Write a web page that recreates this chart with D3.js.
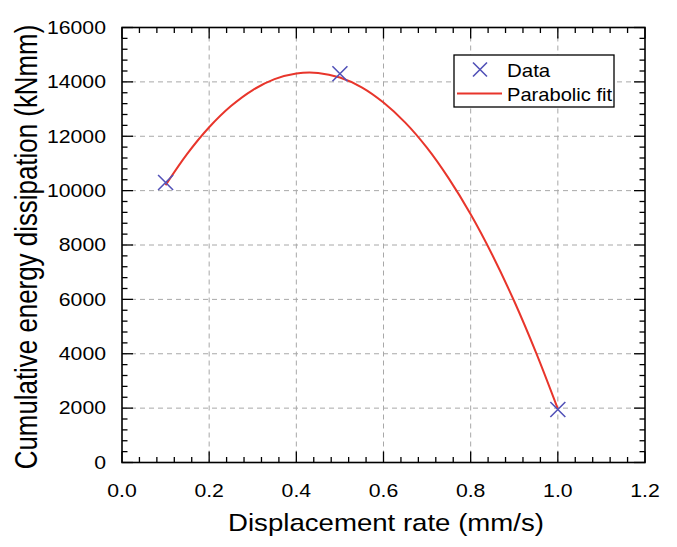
<!DOCTYPE html>
<html>
<head>
<meta charset="utf-8">
<script src="https://cdn.jsdelivr.net/npm/d3@7"></script>
<style>
  body { margin: 0; background: #fff; }
  text { font-family: "Liberation Sans", Arial, sans-serif; fill: #000; }
</style>
</head>
<body>
<svg id="chart" width="677" height="547"></svg>
<script>
// measured points
const rate = [0.1, 0.5, 1.0]
const energy = [10300, 14300, 1950]

// parabolic fit curve
const fitRate = [0.10, 0.15, 0.20, 0.25, 0.30, 0.35, 0.40, 0.45, 0.50, 0.55,
  0.60, 0.65, 0.70, 0.75, 0.80, 0.85, 0.90, 0.95, 1.00]
const fitEnergy = [10200, 11360, 12330, 13110, 13700, 14100, 14310, 14330, 14160, 13800,
  13240, 12500, 11570, 10440, 9130, 7625, 5930, 4040, 1970]

const xTicks = [0, 0.2, 0.4, 0.6, 0.8, 1.0, 1.2]
const yTicks = [0, 2000, 4000, 6000, 8000, 10000, 12000, 14000, 16000]

const svg = d3.select('#chart')
const margin = {top: 27.5, right: 32, bottom: 84.5, left: 122}
const width = 677 - margin.left - margin.right
const height = 547 - margin.top - margin.bottom

// the original text is a bit wider than plain Arial, so stretch it sideways
const label = (parent, px, py, str, size, anchor, sx, rot) => {
  const g = parent.append('g')
    .attr('transform', `translate(${px}, ${py}) scale(${sx}, 1)` + (rot ? ` rotate(${rot})` : ''))
  return g.append('text')
    .attr('text-anchor', anchor)
    .attr('font-size', size)
    .text(str)
}

const chart = svg.append('g')
  .attr('transform', `translate(${margin.left}, ${margin.top})`)

const x = d3.scaleLinear().domain([0, 1.2]).range([0, width])
const y = d3.scaleLinear().domain([0, 16000]).range([height, 0])

// dashed grid
const grid = chart.append('g')
  .attr('stroke', '#a8a8a8')
  .attr('stroke-width', 1)
  .attr('stroke-dasharray', '5,4')
grid.selectAll('.gx')
  .data(xTicks.slice(1, -1))
  .join('line')
  .attr('class', 'gx')
  .attr('x1', d => x(d)).attr('x2', d => x(d))
  .attr('y1', 0).attr('y2', height)
grid.selectAll('.gy')
  .data(yTicks.slice(1, -1))
  .join('line')
  .attr('class', 'gy')
  .attr('x1', 0).attr('x2', width)
  .attr('y1', d => y(d)).attr('y2', d => y(d))

// minor ticks: 4 between majors
const xMinor = d3.range(0, 31).map(i => i * 0.04)
const yMinor = d3.range(0, 41).map(i => i * 400)

const tickG = chart.append('g')
  .attr('stroke', '#000')
  .attr('stroke-width', 1.3)
const isMajorX = d => Math.abs(d / 0.2 - Math.round(d / 0.2)) < 1e-6
const isMajorY = d => d % 2000 === 0

xMinor.forEach(d => {
  const len = isMajorX(d) ? 11 : 5.5
  tickG.append('line').attr('x1', x(d)).attr('x2', x(d)).attr('y1', height).attr('y2', height - len)
  tickG.append('line').attr('x1', x(d)).attr('x2', x(d)).attr('y1', 0).attr('y2', len)
})
yMinor.forEach(d => {
  const len = isMajorY(d) ? 11 : 5.5
  tickG.append('line').attr('x1', 0).attr('x2', len).attr('y1', y(d)).attr('y2', y(d))
  tickG.append('line').attr('x1', width).attr('x2', width - len).attr('y1', y(d)).attr('y2', y(d))
})

// frame
chart.append('rect')
  .attr('width', width).attr('height', height)
  .attr('fill', 'none')
  .attr('stroke', '#000')
  .attr('stroke-width', 1.6)

// tick labels
xTicks.forEach(d => label(chart, x(d), height + 34, d3.format('.1f')(d), 17.7, 'middle', 1.2))
yTicks.forEach(d => label(chart, -16, y(d) + 6.3, d, 17.7, 'end', 1.2))

// fit line
const line = d3.line()
  .x((d, i) => x(fitRate[i]))
  .y(d => y(d))
  .curve(d3.curveCatmullRom)

chart.append('path')
  .datum(fitEnergy)
  .attr('d', line)
  .attr('fill', 'none')
  .attr('stroke', '#e8352b')
  .attr('stroke-width', 2)

// data markers
const cross = (g, cx, cy, r) => {
  g.append('path')
    .attr('d', `M${cx - r},${cy - r}L${cx + r},${cy + r}M${cx - r},${cy + r}L${cx + r},${cy - r}`)
    .attr('stroke', '#5252b8')
    .attr('stroke-width', 1.6)
    .attr('fill', 'none')
}
const marks = chart.append('g')
rate.forEach((r, i) => cross(marks, x(r), y(energy[i]), 7.5))

// legend
const legend = svg.append('g')
legend.append('rect')
  .attr('x', 454).attr('y', 55)
  .attr('width', 160).attr('height', 52)
  .attr('fill', '#fff')
  .attr('stroke', '#000')
  .attr('stroke-width', 1.3)
cross(legend, 480, 69.5, 7)
legend.append('line')
  .attr('x1', 457).attr('x2', 502)
  .attr('y1', 93.5).attr('y2', 93.5)
  .attr('stroke', '#e8352b')
  .attr('stroke-width', 2)
label(legend, 507, 76.5, 'Data', 17.5, 'start', 1.17)
label(legend, 507, 100.5, 'Parabolic fit', 17.5, 'start', 1.15)

// axis titles
label(svg, 386, 531, 'Displacement rate (mm/s)', 24, 'middle', 1.15)
label(svg, 37, 247, 'Cumulative energy dissipation (kNmm)', 25.9, 'middle', 1.2, -90)
</script>
</body>
</html>
